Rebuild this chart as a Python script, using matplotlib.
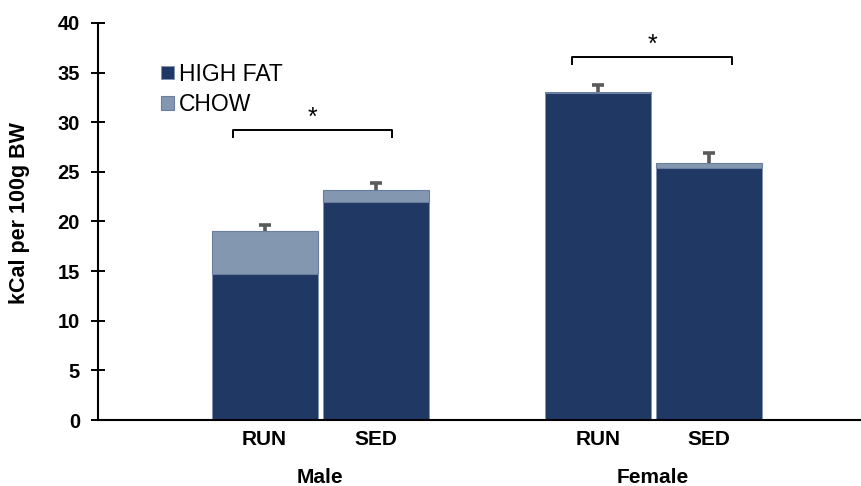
import matplotlib.pyplot as plt
import numpy as np

# values (kCal per 100g BW)
groups = ["Male", "Female"]
conditions = ["RUN", "SED", "RUN", "SED"]
high_fat = [14.7, 22.0, 32.9, 25.35]
total = [19.0, 23.15, 33.0, 25.85]
err_up = [0.6, 0.7, 0.8, 1.1]
chow = [t - h for t, h in zip(total, high_fat)]

x_pos = [0, 1, 3, 4]
group_centers = [0.5, 3.5]
brackets = [(-0.28, 1.15, 29.2), (2.77, 4.21, 36.55)]

hf_color = "#203864"
chow_color = "#8497B0"

plt.rcParams['font.family'] = ['Liberation Sans', 'DejaVu Sans']

fig = plt.figure(figsize=(8.62, 4.86), dpi=100)
ax = fig.add_axes([0.1137, 0.1358, 0.8863, 0.8169])

ax.bar(x_pos, high_fat, width=0.955, color=hf_color, edgecolor="#7f93b0",
       linewidth=0.6, label="HIGH FAT")
ax.bar(x_pos, chow, bottom=high_fat, width=0.955, color=chow_color,
       edgecolor="#6a7f9f", linewidth=0.8, label="CHOW")

# upper-only error bars
tops = np.array(total) + np.array(err_up)
ax.vlines(x_pos, total, tops, color="#5a5a5a", lw=2.6)
ax.plot(x_pos, tops, ls="none", marker="_", ms=9, mew=2.6, color="#5a5a5a")

# significance brackets
for x0, x1, yb in brackets:
    ax.plot([x0, x0, x1, x1], [yb - 0.7, yb, yb, yb - 0.7], color="black", lw=1.4)
    ax.text((x0 + x1) / 2, yb + 1.2, "*", ha="center", va="center", fontsize=18)

ax.set_xlim(-1.5, 5.38)
ax.set_ylim(0, 40)
ax.set_yticks(np.arange(0, 41, 5))
ax.set_xticks(x_pos)
ax.set_xticklabels(conditions, fontsize=15, fontweight="bold")
ax.tick_params(axis="x", length=0, pad=7)
ax.tick_params(axis="y", direction="inout", length=10, width=1.4, labelsize=14.5, pad=8)
for lab in ax.get_yticklabels():
    lab.set_fontweight("bold")

for s in ["top", "right"]:
    ax.spines[s].set_visible(False)
ax.spines["left"].set_linewidth(1.5)
ax.spines["bottom"].set_linewidth(1.5)

for g, c in zip(groups, group_centers):
    ax.text(c, -0.12, g, transform=ax.get_xaxis_transform(), ha="center",
            va="top", fontsize=15, fontweight="bold")

ax.set_ylabel("kCal per 100g BW", fontsize=15.5, fontweight="bold", va="center")
ax.yaxis.set_label_coords(-0.103, 0.52)

ax.legend(loc="upper left", bbox_to_anchor=(0.083, 0.9), frameon=False,
          fontsize=16.5, handlelength=0.55, handleheight=0.55, handletextpad=0.2,
          labelspacing=0.32, borderpad=0, borderaxespad=0)

fig.savefig("out.png", dpi=100)
